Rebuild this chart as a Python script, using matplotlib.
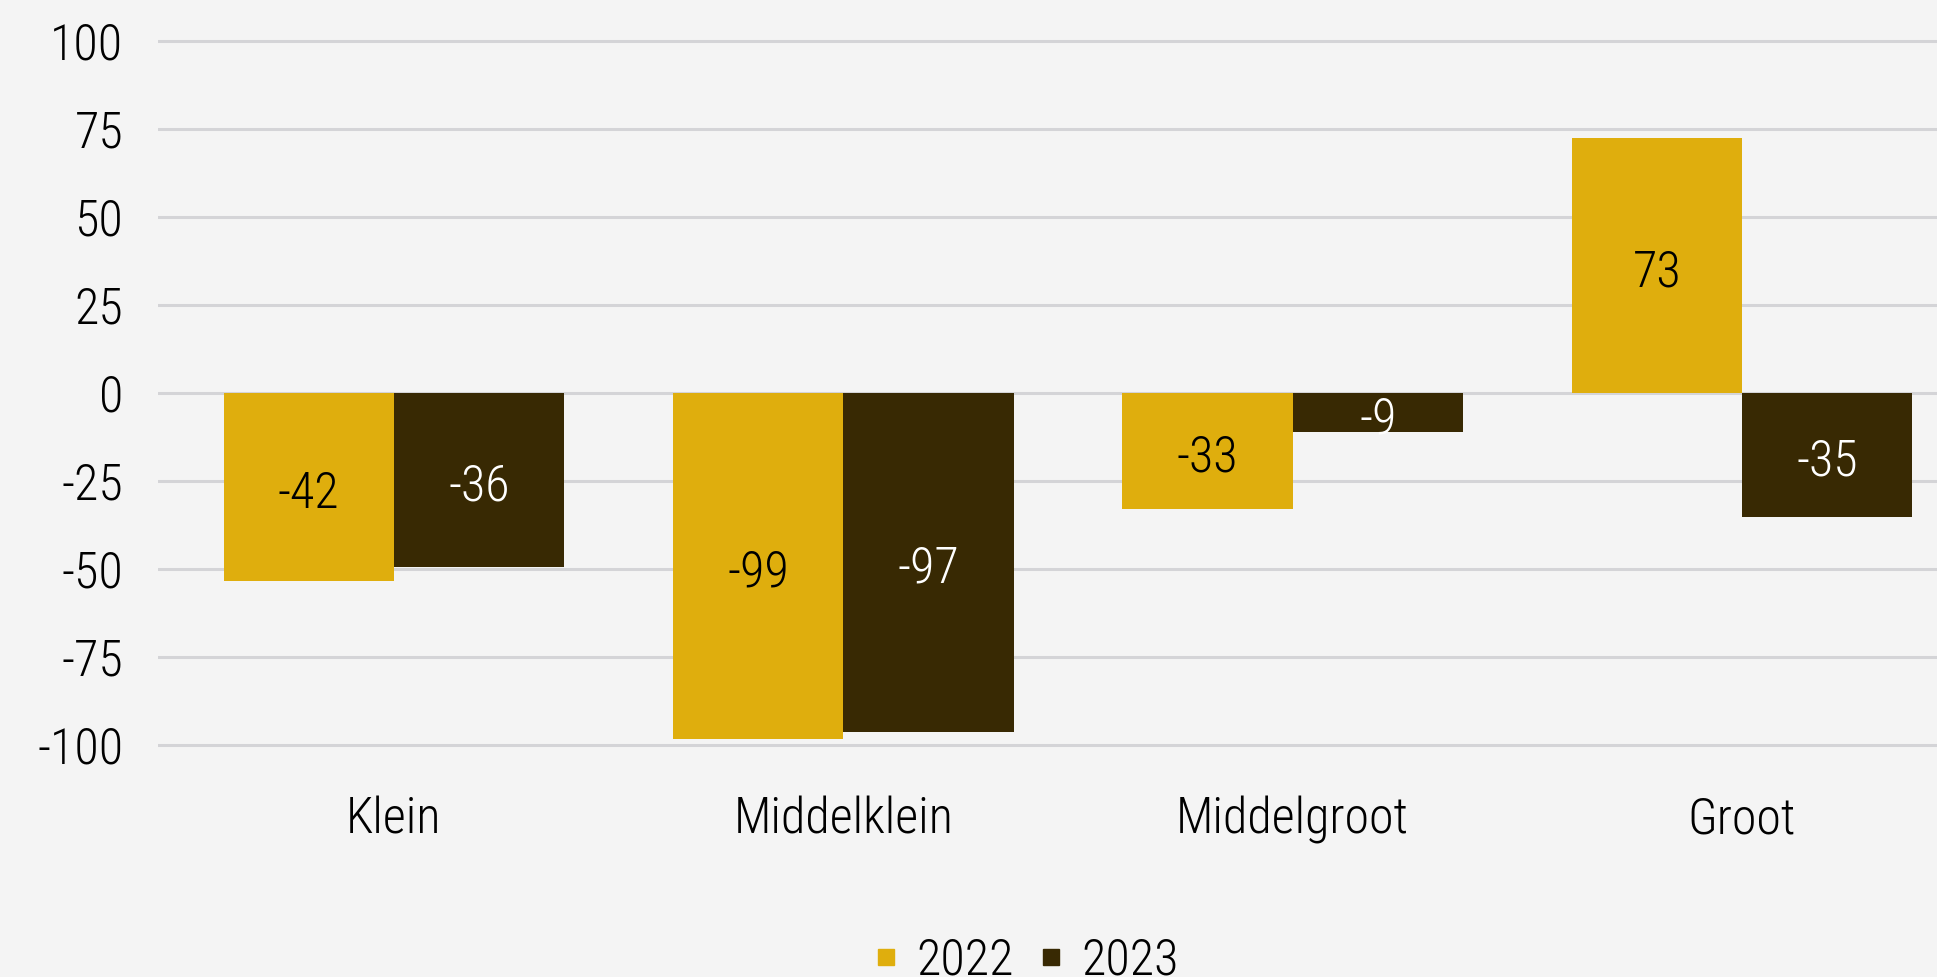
import numpy as np
import matplotlib.pyplot as plt
from matplotlib.lines import Line2D

# data
categories = ['Klein', 'Middelklein', 'Middelgroot', 'Groot']
series = ['2022', '2023']
# bar heights as drawn in the picture
values_2022 = [-53.5, -98.2, -33.0, 72.5]
values_2023 = [-49.3, -96.2, -11.2, -35.3]
# numbers printed inside the bars
labels_2022 = ['-42', '-99', '-33', '73']
labels_2023 = ['-36', '-97', '-9', '-35']
yticks = [100, 75, 50, 25, 0, -25, -50, -75, -100]

gold = '#DFAE0D'
dark = '#382903'
bg = '#F4F4F4'
grid = '#D4D4D7'

plt.rcParams['font.family'] = ['Roboto Condensed', 'Liberation Sans Narrow', 'Liberation Sans', 'DejaVu Sans']
plt.rcParams['font.weight'] = 'light'
fs = 36

fig = plt.figure(figsize=(19.37, 9.77), dpi=100, facecolor=bg)
ax = fig.add_axes([158/1937, 0.2303, 1 - 158/1937, 0.9652 - 0.2303])
ax.set_facecolor(bg)

x = np.arange(len(categories))
w = 0.379
b1 = ax.bar(x - w/2, values_2022, w, color=gold, zorder=3)
b2 = ax.bar(x + w/2, values_2023, w, color=dark, zorder=3)
t1 = ax.bar_label(b1, labels=labels_2022, label_type='center', fontsize=fs, color='black')
t2 = ax.bar_label(b2, labels=labels_2023, label_type='center', fontsize=fs, color='white')
for t in t1 + t2:
    t.set_y(-5)   # nudge slightly down like the reference

ax.set_xlim(-0.525, 3.434)
ax.set_ylim(-102, 102)
ax.set_yticks(yticks)
ax.set_yticklabels([str(v) for v in yticks])
ax.set_xticks(x)
ax.set_xticklabels(categories)
ax.tick_params(axis='y', length=0, pad=25, labelsize=fs)
ax.tick_params(axis='x', length=0, pad=32, labelsize=fs)
ax.yaxis.grid(True, color=grid, linewidth=2.2, zorder=0)
ax.set_axisbelow(True)
for s in ax.spines.values():
    s.set_visible(False)

handles = [Line2D([], [], marker='s', linestyle='none', color=gold, markersize=11.5),
           Line2D([], [], marker='s', linestyle='none', color=dark, markersize=11.5)]
fig.legend(handles, series, loc='center', bbox_to_anchor=(0.529, 0.017), ncol=2,
           frameon=False, fontsize=fs, handlelength=0.6, handletextpad=0.3,
           columnspacing=0.45)

fig.savefig('out.png', dpi=100, facecolor=bg)
